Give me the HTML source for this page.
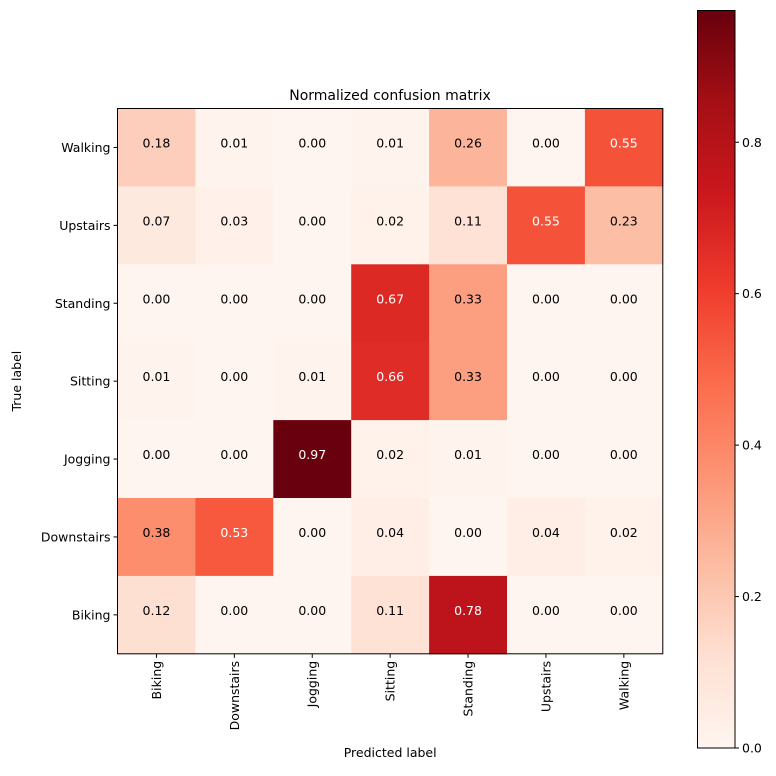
<!DOCTYPE html>
<html><head><meta charset="utf-8"><style>
body{margin:0;background:#fff;font-family:"Liberation Sans","DejaVu Sans",sans-serif}
</style></head><body>
<svg id="chart" width="776" height="771" font-family="DejaVu Sans, Liberation Sans, sans-serif">
<defs><linearGradient id="reds" x1="0" y1="1" x2="0" y2="0"></linearGradient></defs>
<text x="390" y="100" font-size="14" text-anchor="middle">Normalized confusion matrix</text>
<g id="cells"></g>
<g id="axes"></g>
</svg>
<script>
const rowLabels=["Walking","Upstairs","Standing","Sitting","Jogging","Downstairs","Biking"];
const colLabels=["Biking","Downstairs","Jogging","Sitting","Standing","Upstairs","Walking"];
const values=[
[0.18,0.01,0.00,0.01,0.26,0.00,0.55],
[0.07,0.03,0.00,0.02,0.11,0.55,0.23],
[0.00,0.00,0.00,0.67,0.33,0.00,0.00],
[0.01,0.00,0.01,0.66,0.33,0.00,0.00],
[0.00,0.00,0.97,0.02,0.01,0.00,0.00],
[0.38,0.53,0.00,0.04,0.00,0.04,0.02],
[0.12,0.00,0.00,0.11,0.78,0.00,0.00]];
const cbTicks=[0.0,0.2,0.4,0.6,0.8];
const vmax=0.974;
const stops=["#fff5f0","#fee0d2","#fcbba1","#fc9272","#fb6a4a","#ef3b2c","#cb181d","#a50f15","#67000d"];
const NS="http://www.w3.org/2000/svg";
function hex(h){return [1,3,5].map(i=>parseInt(h.substr(i,2),16));}
function cmap(t){t=Math.max(0,Math.min(1,t));const p=t*(stops.length-1);const i=Math.min(Math.floor(p),stops.length-2);const f=p-i;const a=hex(stops[i]),b=hex(stops[i+1]);return "rgb("+a.map((v,k)=>Math.round(v+(b[k]-v)*f)).join(",")+")";}
function mk(tag,attrs,parent){const e=document.createElementNS(NS,tag);for(const k in attrs)e.setAttribute(k,attrs[k]);parent.appendChild(e);return e;}
const L=117.5,T=108.5,S=77.9,n=colLabels.length,FS=12.5;
const xPos=j=>L+j*S, yPos=i=>T+i*S;
const cells=document.getElementById('cells'),axes=document.getElementById('axes');
values.forEach((row,i)=>row.forEach((v,j)=>{
 const r=mk('rect',{x:xPos(j),y:yPos(i),width:S+0.5,height:S+0.5,fill:cmap(v/vmax)},cells);
 
 
 const t=mk('text',{x:xPos(j)+S/2,y:yPos(i)+S/2,'font-size':FS,'text-anchor':'middle',fill:v>vmax/2?'#fff':'#000'},cells);
 t.textContent=v.toFixed(2);
 
 
}));
const fr=mk('rect',{x:L,y:T,width:S*n,height:S*n,fill:'none',stroke:'#000','stroke-width':1},axes);


rowLabels.forEach((lab,i)=>{
 const y=yPos(i)+S/2;
 mk('line',{x1:L-4,x2:L,y1:y,y2:y,stroke:'#000'},axes);
 const t=mk('text',{x:L-7,y:y+4.5,'font-size':FS,'text-anchor':'end'},axes);
 t.textContent=lab;
 
 
});
const B=T+S*n;
colLabels.forEach((lab,j)=>{
 const x=xPos(j)+S/2;
 mk('line',{x1:x,x2:x,y1:B,y2:B+4,stroke:'#000'},axes);
 const t=mk('text',{x:x+4.5,y:B+7,'font-size':FS,'text-anchor':'end',transform:'rotate(-90 '+(x+4.5)+' '+(B+7)+')'},axes);
 t.textContent=lab;
 
 
});
let t=mk('text',{x:L+S*n/2,y:757,'font-size':FS,'text-anchor':'middle'},axes);t.textContent='Predicted label';


t=mk('text',{x:21,y:T+S*n/2,'font-size':FS,'text-anchor':'middle',transform:'rotate(-90 21 '+(T+S*n/2)+')'},axes);t.textContent='True label';


const grad=document.getElementById('reds');
stops.forEach((c,k)=>mk('stop',{offset:k/(stops.length-1),'stop-color':c},grad));
const CX=697.5,CW=37.5,CT=10.5,CB=748;
const cy=v=>CB-(v/vmax)*(CB-CT);
const cb=mk('rect',{x:CX,y:CT,width:CW,height:CB-CT,fill:'url(#reds)',stroke:'#000'},axes);


cbTicks.forEach(v=>{
 const y=cy(v);
 mk('line',{x1:CX+CW,x2:CX+CW+4,y1:y,y2:y,stroke:'#000'},axes);
 const tt=mk('text',{x:CX+CW+7,y:y+4.5,'font-size':FS},axes);
 tt.textContent=v.toFixed(1);
 
 
});
</script>
</body></html>
